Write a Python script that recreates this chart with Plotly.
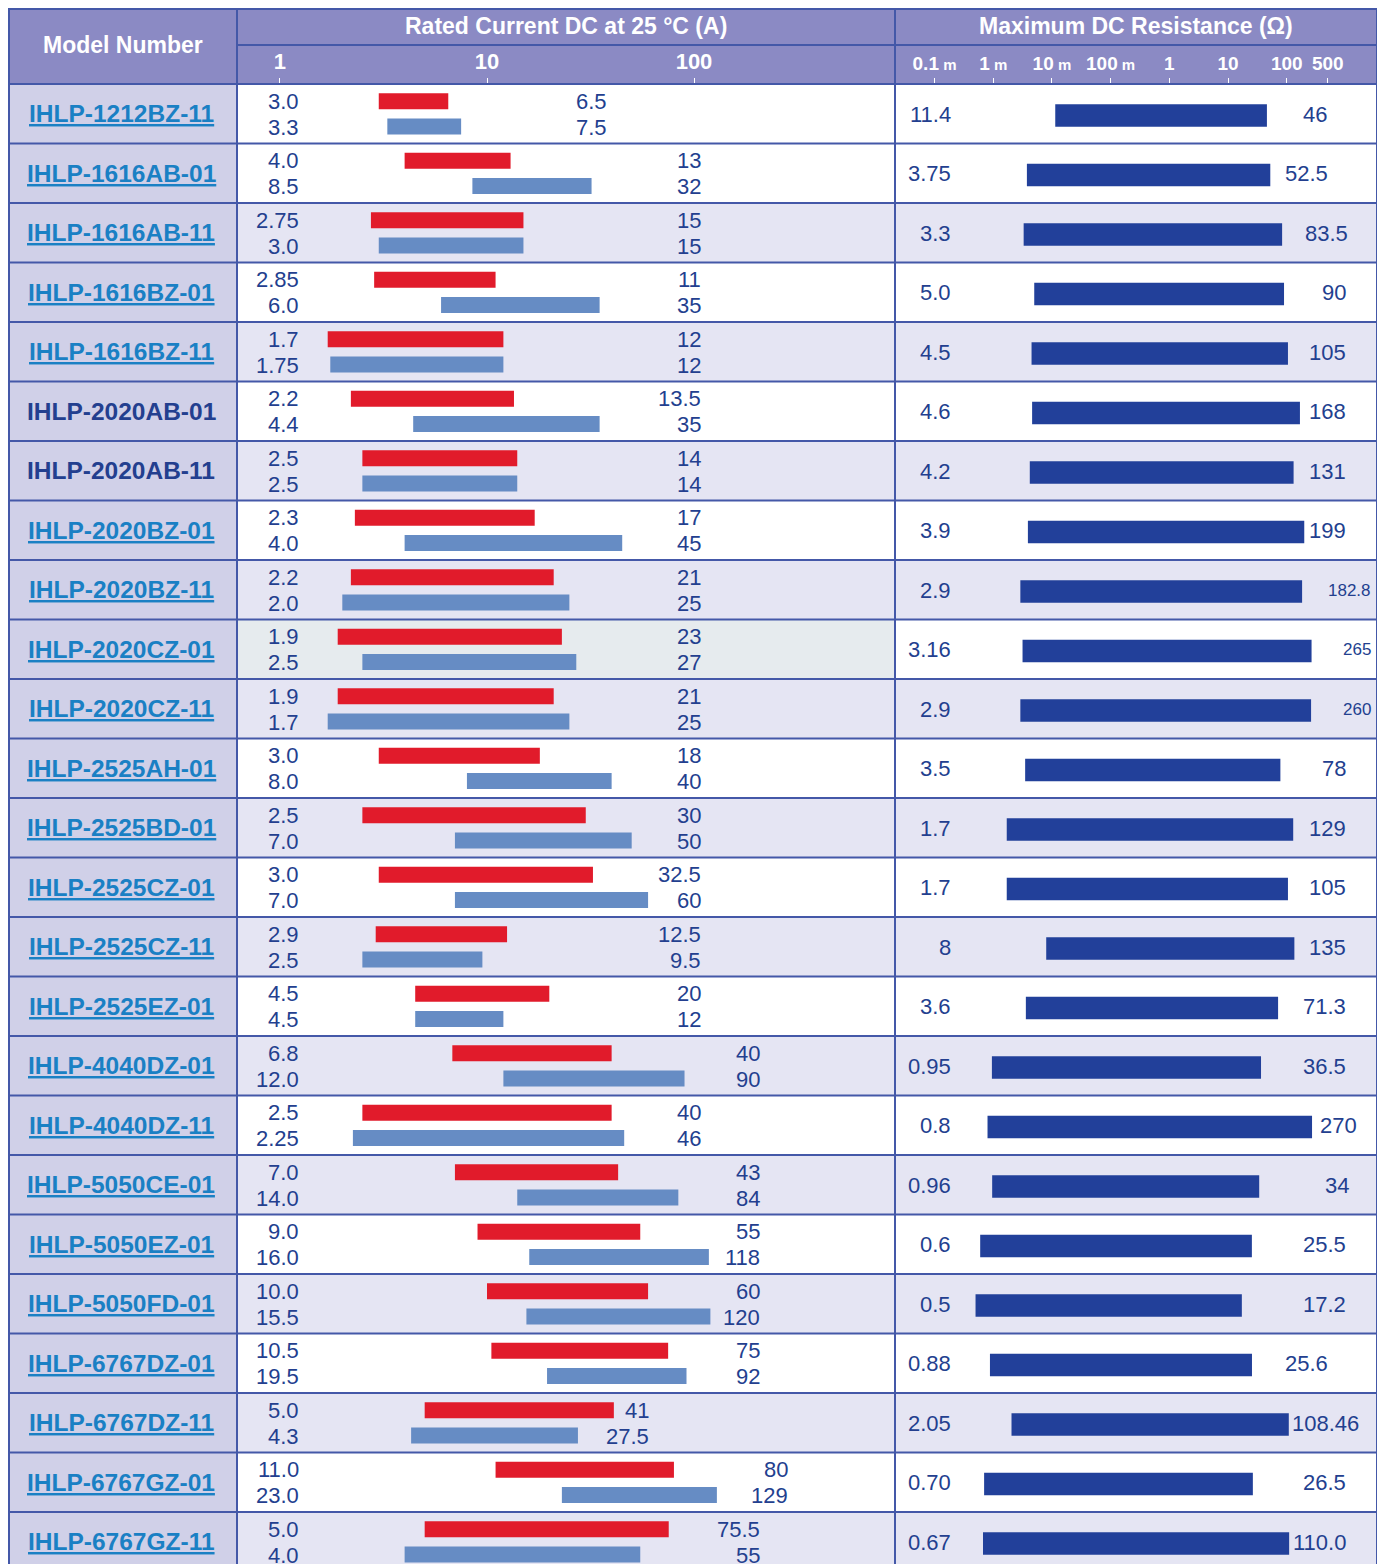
import plotly.graph_objects as go

# ---------------- data ----------------
models = ["IHLP-1212BZ-11", "IHLP-1616AB-01", "IHLP-1616AB-11", "IHLP-1616BZ-01",
          "IHLP-1616BZ-11", "IHLP-2020AB-01", "IHLP-2020AB-11", "IHLP-2020BZ-01",
          "IHLP-2020BZ-11", "IHLP-2020CZ-01", "IHLP-2020CZ-11", "IHLP-2525AH-01",
          "IHLP-2525BD-01", "IHLP-2525CZ-01", "IHLP-2525CZ-11", "IHLP-2525EZ-01",
          "IHLP-4040DZ-01", "IHLP-4040DZ-11", "IHLP-5050CE-01", "IHLP-5050EZ-01",
          "IHLP-5050FD-01", "IHLP-6767DZ-01", "IHLP-6767DZ-11", "IHLP-6767GZ-01",
          "IHLP-6767GZ-11"]
model_is_link = [True, True, True, True, True, False, False, True, True, True, True, True,
                 True, True, True, True, True, True, True, True, True, True, True, True, True]

red_min = ["3.0", "4.0", "2.75", "2.85", "1.7", "2.2", "2.5", "2.3", "2.2", "1.9", "1.9", "3.0",
           "2.5", "3.0", "2.9", "4.5", "6.8", "2.5", "7.0", "9.0", "10.0", "10.5", "5.0", "11.0", "5.0"]
red_max = ["6.5", "13", "15", "11", "12", "13.5", "14", "17", "21", "23", "21", "18",
           "30", "32.5", "12.5", "20", "40", "40", "43", "55", "60", "75", "41", "80", "75.5"]
blue_min = ["3.3", "8.5", "3.0", "6.0", "1.75", "4.4", "2.5", "4.0", "2.0", "2.5", "1.7", "8.0",
            "7.0", "7.0", "2.5", "4.5", "12.0", "2.25", "14.0", "16.0", "15.5", "19.5", "4.3", "23.0", "4.0"]
blue_max = ["7.5", "32", "15", "35", "12", "35", "14", "45", "25", "27", "25", "40",
            "50", "60", "9.5", "12", "90", "46", "84", "118", "120", "92", "27.5", "129", "55"]

dcr_min_mohm = ["11.4", "3.75", "3.3", "5.0", "4.5", "4.6", "4.2", "3.9", "2.9", "3.16", "2.9", "3.5",
                "1.7", "1.7", "8", "3.6", "0.95", "0.8", "0.96", "0.6", "0.5", "0.88", "2.05", "0.70", "0.67"]
dcr_max = ["46", "52.5", "83.5", "90", "105", "168", "131", "199", "182.8", "265", "260", "78",
           "129", "105", "135", "71.3", "36.5", "270", "34", "25.5", "17.2", "25.6", "108.46", "26.5", "110.0"]

cur_tick_vals = [1, 10, 100]
cur_tick_text = ["1", "10", "100"]
res_tick_vals = [0.0001, 0.001, 0.01, 0.1, 1, 10, 100, 500]
res_tick_num = ["0.1", "1", "10", "100", "1", "10", "100", "500"]
res_tick_unit = ["m", "m", "m", "m", "", "", "", ""]

# ---------------- layout constants (page pixels) ----------------
OFF = 8                      # page margin around the figure
W, H = 1385 - OFF, 1564 - OFF
ROW = 59.5
TOP = 84
X_L, X_M, X_C, X_R = 9, 237, 895, 1377

HEAD = "#8b8ac4"
MODEL_BG = "#d0d0e8"
ROW_ALT = "#e5e5f3"
ROW_HL = "#e6ebee"
GRID = "#4458a8"
RED = "#e11b2b"
BLUE = "#668cc4"
NAVY = "#22409a"
TXT = "#233f8f"
LINK = "#1a80c4"
FONT = "Liberation Sans, Arial, Helvetica, sans-serif"

# column (page pixel of right edge) where the max-value labels sit, per row
cur_label_right = [608, 702, 702, 702, 702, 702, 702, 702, 702, 702, 702, 702,
                   702, 702, 702, 702, 761, 702, 761, 761, 761, 761, 650, 789, 761]
res_label_right = [1328, 1329, 1349, 1347, 1347, 1347, 1347, 1347, 1372, 1372, 1372, 1347,
                   1347, 1347, 1347, 1347, 1347, 1358, 1350, 1347, 1347, 1329, 1360, 1347, 1347]
res_label_small = [False] * 8 + [True, True, True] + [False] * 14


def px(x):
    return (x - OFF) / W


def py(y):
    return 1 - (y - OFF) / H


n = len(models)
rmin = [float(v) for v in red_min]
rmax = [float(v) for v in red_max]
bmin = [float(v) for v in blue_min]
bmax = [float(v) for v in blue_max]
dlo = [float(v) / 1000.0 for v in dcr_min_mohm]   # mOhm -> Ohm
dhi = [float(v) for v in dcr_max]

fig = go.Figure()

fig.add_trace(go.Bar(orientation="h", y=[i + 0.29 for i in range(n)],
                     x=[b - a for a, b in zip(rmin, rmax)], base=rmin, width=0.27,
                     marker=dict(color=RED, line=dict(width=0)),
                     xaxis="x2", yaxis="y", hoverinfo="skip", showlegend=False))
fig.add_trace(go.Bar(orientation="h", y=[i + 0.715 for i in range(n)],
                     x=[b - a for a, b in zip(bmin, bmax)], base=bmin, width=0.27,
                     marker=dict(color=BLUE, line=dict(width=0)),
                     xaxis="x2", yaxis="y", hoverinfo="skip", showlegend=False))
fig.add_trace(go.Bar(orientation="h", y=[i + 0.53 for i in range(n)],
                     x=[b - a for a, b in zip(dlo, dhi)], base=dlo, width=0.38,
                     marker=dict(color=NAVY, line=dict(width=0)),
                     xaxis="x3", yaxis="y", hoverinfo="skip", showlegend=False))

shapes = []
shapes.append(dict(type="rect", xref="paper", yref="paper", x0=px(X_L), x1=px(X_R),
                   y0=py(TOP), y1=py(OFF), fillcolor=HEAD, line=dict(width=0), layer="below"))
shapes.append(dict(type="rect", xref="paper", yref="y", x0=px(X_L), x1=px(X_M),
                   y0=0, y1=n, fillcolor=MODEL_BG, line=dict(width=0), layer="below"))
for i in range(n):
    if i >= 2 and i % 2 == 0:
        shapes.append(dict(type="rect", xref="paper", yref="y", x0=px(X_M), x1=px(X_R),
                           y0=i, y1=i + 1, fillcolor=ROW_ALT, line=dict(width=0), layer="below"))
    if models[i] == "IHLP-2020CZ-01":
        shapes.append(dict(type="rect", xref="paper", yref="y", x0=px(X_M), x1=px(X_C),
                           y0=i, y1=i + 1, fillcolor=ROW_HL, line=dict(width=0), layer="below"))
for i in range(1, n):
    shapes.append(dict(type="line", xref="paper", yref="y", x0=px(X_L), x1=px(X_R),
                       y0=i, y1=i, line=dict(color=GRID, width=2)))
for (y, xa) in [(OFF + 1, X_L), (45, X_M), (TOP, X_L)]:
    shapes.append(dict(type="line", xref="paper", yref="paper", x0=px(xa), x1=px(X_R),
                       y0=py(y), y1=py(y), line=dict(color=GRID, width=2)))
for x in [X_L, X_M, X_C, X_R]:
    shapes.append(dict(type="line", xref="paper", yref="paper", x0=px(x), x1=px(x),
                       y0=0, y1=py(OFF), line=dict(color=GRID, width=2)))

ann = []
hdr_font = dict(family=FONT, size=23, color="white", weight="bold")
ann.append(dict(text="Model Number", xref="paper", yref="paper", x=px((X_L + X_M) / 2),
                y=py(45), showarrow=False, font=hdr_font, xanchor="center", yanchor="middle"))
ann.append(dict(text="Rated Current DC at 25 °C (A)", xref="paper", yref="paper",
                x=px((X_M + X_C) / 2), y=py(26), showarrow=False, font=hdr_font,
                xanchor="center", yanchor="middle"))
ann.append(dict(text="Maximum DC Resistance (Ω)", xref="paper", yref="paper",
                x=px((X_C + X_R) / 2), y=py(26), showarrow=False, font=hdr_font,
                xanchor="center", yanchor="middle"))

num_font = dict(family=FONT, size=22, color=TXT)
for i in range(n):
    link = model_is_link[i]
    ann.append(dict(text=models[i], xref="paper", yref="y", x=px(121), y=i + 0.5,
                    showarrow=False, xanchor="center", yanchor="middle",
                    font=dict(family=FONT, size=24.5, weight="bold", color=LINK if link else TXT,
                              lineposition="under" if link else "none")))
    for txt, yy in [(red_min[i], 0.29), (blue_min[i], 0.73)]:
        ann.append(dict(text=txt, xref="paper", yref="y", x=px(301), y=i + yy, showarrow=False,
                        xanchor="right", yanchor="middle", font=num_font))
    for txt, yy in [(red_max[i], 0.29), (blue_max[i], 0.73)]:
        ann.append(dict(text=txt, xref="paper", yref="y", x=px(cur_label_right[i] + 1), y=i + yy,
                        showarrow=False, xanchor="right", yanchor="middle", font=num_font))
    ann.append(dict(text=dcr_min_mohm[i], xref="paper", yref="y", x=px(953), y=i + 0.51,
                    showarrow=False, xanchor="right", yanchor="middle", font=num_font))
    f = dict(family=FONT, size=17, color=TXT) if res_label_small[i] else num_font
    ann.append(dict(text=dcr_max[i], xref="paper", yref="y", x=px(res_label_right[i] + 1), y=i + 0.51,
                    showarrow=False, xanchor="right", yanchor="middle", font=f))

res_tick_text = []
for num, unit in zip(res_tick_num, res_tick_unit):
    if unit:
        res_tick_text.append(num + "<span style='font-size:15px'> " + unit + "</span>")
    else:
        res_tick_text.append(num)

L_cur = (-0.2077, 2.971)
L_res = (-4.673, 3.538)

axis_common = dict(type="log", side="top", anchor="y", showgrid=False, zeroline=False,
                   showline=False, ticks="outside", ticklen=5, tickwidth=1, tickcolor="white",
                   fixedrange=True, tickmode="array")

fig.update_layout(
    width=W, height=H,
    margin=dict(l=0, r=0, t=0, b=0),
    paper_bgcolor="white", plot_bgcolor="rgba(0,0,0,0)",
    barmode="overlay", showlegend=False, hovermode=False,
    xaxis=dict(domain=[px(X_L), px(X_M)], range=[0, 1], visible=False, fixedrange=True),
    xaxis2=dict(domain=[px(X_M), px(X_C)], range=list(L_cur), tickvals=cur_tick_vals,
                ticktext=cur_tick_text,
                tickfont=dict(family=FONT, size=22, color="white", weight="bold"),
                **axis_common),
    xaxis3=dict(domain=[px(X_C), px(X_R)], range=list(L_res), tickvals=res_tick_vals,
                ticktext=res_tick_text,
                tickfont=dict(family=FONT, size=19, color="white", weight="bold"),
                **axis_common),
    yaxis=dict(domain=[0, py(TOP)], range=[(H + OFF - TOP) / ROW, 0], visible=False,
               fixedrange=True, anchor="x"),
    shapes=shapes,
    annotations=ann,
)

fig.write_html("out.html")
